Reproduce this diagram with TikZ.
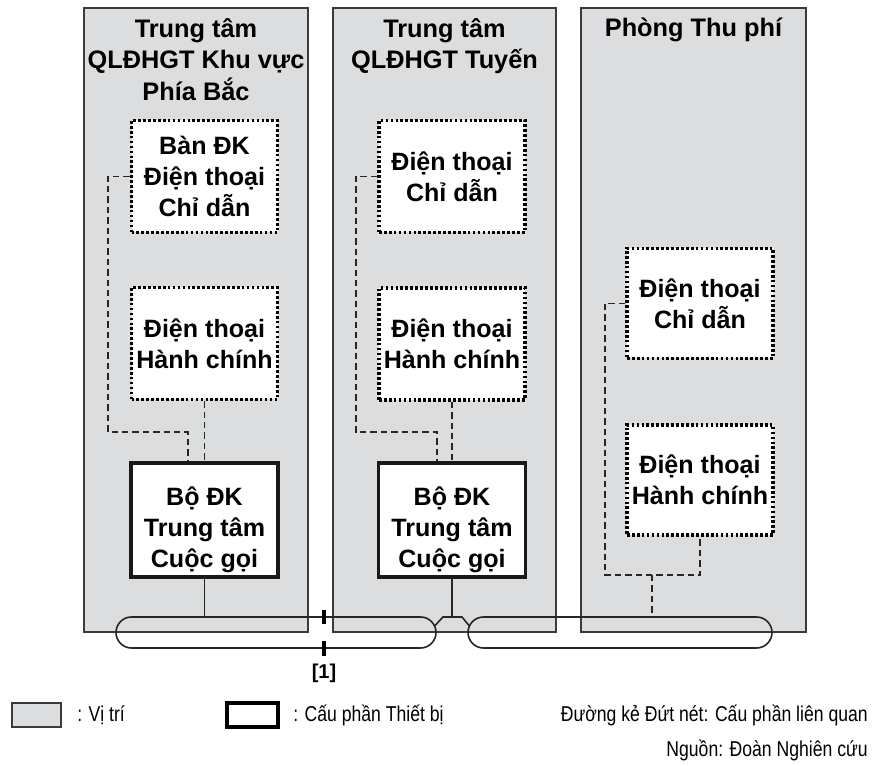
\documentclass[tikz,border=0pt]{standalone}
\usepackage{fontspec}
\setmainfont{Liberation Sans}
\newfontfamily\narrowfont[FakeStretch=0.82]{Liberation Sans}
\usepackage{tikz}
\usetikzlibrary{shapes.misc}
\definecolor{sitegray}{HTML}{DCDDDF}
\definecolor{edgegray}{HTML}{3A3A3A}
\tikzset{every picture/.append style={font=\fontsize{18.8}{23.25}\selectfont\bfseries}}
\tikzset{
  site/.style={draw=edgegray,fill=sitegray,line width=1.1pt},
  sitetitle/.style={anchor=north,align=center,inner sep=0pt,font=\fontsize{19}{23.8}\selectfont\bfseries},
  phone/.style={draw=black,fill=white,line width=2.6pt,dash pattern=on 2pt off 1.7pt,
    minimum width=146*0.75pt,minimum height=112*0.75pt,align=center,inner sep=0pt},
  ctlbox/.style={draw=black!90,fill=white,line width=2.4pt,
    minimum width=147*0.75pt,minimum height=114*0.75pt,inner sep=0pt},
  ctltext/.style={align=center,inner sep=0pt,yshift=-7pt},
  dashlink/.style={draw=black!85,line width=1.3pt,dash pattern=on 4.8pt off 3pt},
  wire/.style={draw=black!85,line width=1.2pt},
  bus/.style={draw=black!85,line width=1.2pt,rounded rectangle,minimum height=31*0.75pt,inner sep=0pt},
  breakmark/.style={line width=2.4pt},
  legendtext/.style={font=\narrowfont\mdseries\fontsize{16.1}{19}\selectfont,inner sep=0pt},
}

\begin{document}
\begin{tikzpicture}[x=0.75pt,y=-0.75pt]
    \useasboundingbox (0,0) rectangle (879,766);
    % sites
    \draw[site] (84,8) rectangle (308,632);
    \draw[site] (333,8) rectangle (556,632);
    \draw[site] (581,8) rectangle (806,632);
    \node[sitetitle] (titleA) at (196,18) {Trung tâm\\QLĐHGT Khu vực\\Phía Bắc};
    \node[sitetitle] (titleB) at (444.5,18) {Trung tâm\\QLĐHGT Tuyến};
    \node[sitetitle] (titleC) at (693.5,18) {Phòng Thu phí};
    % bus
    \node[bus,minimum width=320*0.75pt] (busA) at (276,632.5) {};
    \node[bus,minimum width=304*0.75pt] (busB) at (620,632.5) {};
    % equipment
    \node[phone] (dirA) at (204.5,176.5) {Bàn ĐK\\Điện thoại\\Chỉ dẫn};
    \node[phone] (admA) at (204.5,343.5) {Điện thoại\\Hành chính};
    \node[ctlbox,label={[ctltext]center:Bộ ĐK\\Trung tâm\\Cuộc gọi}] (ctlA) at (204.5,520) {};
    \node[phone] (dirB) at (452,176.5) {Điện thoại\\Chỉ dẫn};
    \node[phone] (admB) at (452,344) {Điện thoại\\Hành chính};
    \node[ctlbox,label={[ctltext]center:Bộ ĐK\\Trung tâm\\Cuộc gọi}] (ctlB) at (452,520) {};
    \node[phone,minimum height=110*0.75pt] (dirC) at (700,303.5) {Điện thoại\\Chỉ dẫn};
    \node[phone,minimum height=110*0.75pt] (admC) at (700,480) {Điện thoại\\Hành chính};
    % dashed relations
    \coordinate (inA) at ([xshift=-12.4pt]ctlA.north);
    \coordinate (inB) at ([xshift=-11.3pt]ctlB.north);
    \coordinate (tapC) at (652,575);
    \draw[dashlink] (dirA.west) -| (108,432) -| (inA);
    \draw[dashlink] (admA.south) -- (admA.south |- ctlA.north);
    \draw[dashlink] (dirB.west) -| (356,432) -| (inB);
    \draw[dashlink] (admB.south) -- (admB.south |- ctlB.north);
    \draw[dashlink] (dirC.west) -| (605,575) -| (admC.south);
    \draw[dashlink] (tapC) -- (tapC |- busB.north);
    % bus taps
    \coordinate (brA) at (434.6,626);
    \coordinate (brB) at (443,617);
    \coordinate (brC) at (462,617);
    \coordinate (brD) at (469.4,626);
    \draw[wire] (ctlA.south) -- (ctlA.south |- busA.north);
    \draw[wire] (ctlB.south) -- (ctlB.south |- brB);
    \draw[wire] (brA) -- (brB) -- (brC) -- (brD);
    \draw[breakmark] (324,610) -- (324,624);
    \draw[breakmark] (324,641) -- (324,656);
    \node[font=\fontsize{15}{18}\selectfont\bfseries,inner sep=0pt] (ref) at (324,673) {[1]};
    % legend
    \node[site,minimum width=49*0.75pt,minimum height=24*0.75pt,inner sep=0pt] (keyA) at (36.5,715) {};
    \node[legendtext,anchor=west] (keyAtext) at (77,715) {: Vị trí};
    \node[draw=black,fill=white,line width=2.4pt,minimum width=51*0.75pt,minimum height=24*0.75pt,inner sep=0pt] (keyB) at (252.5,715) {};
    \node[legendtext,anchor=west] (keyBtext) at (293,715) {: Cấu phần Thiết bị};
    \node[legendtext,anchor=east] (keyC) at (868,715) {Đường kẻ Đứt nét: Cấu phần liên quan};
    \node[legendtext,anchor=east] (source) at (868,750) {Nguồn: Đoàn Nghiên cứu};
\end{tikzpicture}
\end{document}
